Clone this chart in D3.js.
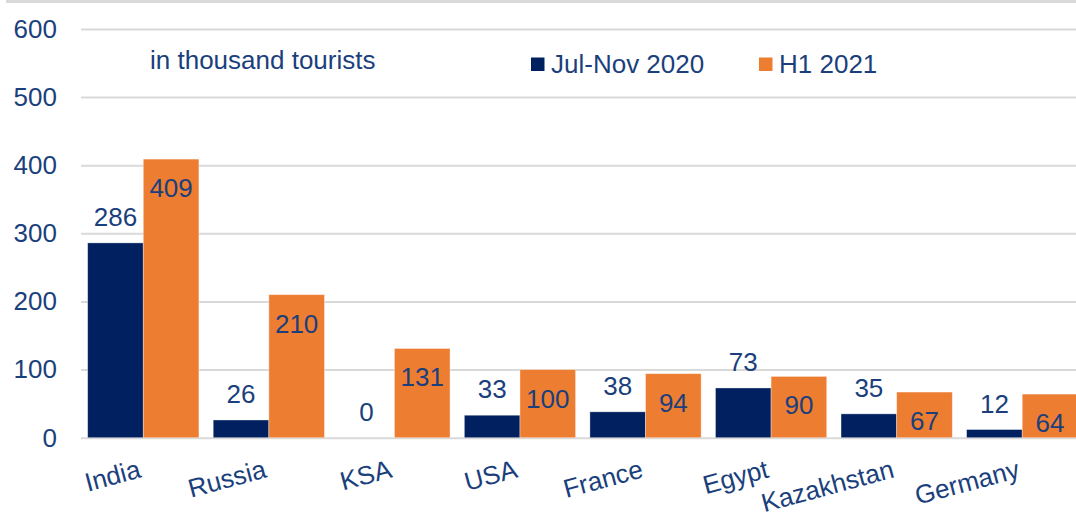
<!DOCTYPE html>
<html>
<head>
<meta charset="utf-8">
<script src="https://cdn.jsdelivr.net/npm/d3@7"></script>
<style>
  html, body { margin: 0; padding: 0; background: #ffffff; }
  svg { display: block; font-family: "Liberation Sans", Arial, sans-serif; }
</style>
</head>
<body>
<svg id="chart" width="1076" height="520"></svg>
<script>
// Tourist arrivals by source country, in thousands
const countries = ["India", "Russia", "KSA", "USA", "France", "Egypt", "Kazakhstan", "Germany"];
const julNov2020 = [286, 26, 0, 33, 38, 73, 35, 12];
const h1_2021 = [409, 210, 131, 100, 94, 90, 67, 64];
const seriesNames = ["Jul-Nov 2020", "H1 2021"];
const yTicks = [0, 100, 200, 300, 400, 500, 600];

const navy = "#002060";
const orange = "#ED7D31";
const textColor = "#1b3f7c";
const gridColor = "#d9d9d9";
const fontSize = 26;

const svg = d3.select("#chart");

// frame line along the top edge
svg.append("rect")
  .attr("x", 6).attr("y", 0)
  .attr("width", 1070).attr("height", 3)
  .attr("fill", gridColor);

const plotLeft = 80.5, plotRight = 1085;
const x = d3.scaleBand()
  .domain(countries)
  .range([plotLeft, plotRight])
  .paddingInner(0.114)
  .paddingOuter(0.057);

const xSeries = d3.scaleBand()
  .domain(seriesNames)
  .range([0, x.bandwidth()]);

const y = d3.scaleLinear().domain([0, 600]).range([437.7, 29]);

// gridlines + y tick labels via axis
const yAxis = d3.axisLeft(y)
  .tickValues(yTicks)
  .tickSize(-(1076 - 81))
  .tickPadding(24)
  .tickFormat(d3.format("d"));

const gy = svg.append("g")
  .attr("transform", "translate(81,0)")
  .call(yAxis);
gy.select(".domain").remove();
gy.selectAll(".tick line")
  .attr("stroke", gridColor)
  .attr("stroke-width", 2);
gy.selectAll(".tick text")
  .attr("fill", textColor)
  .attr("font-size", fontSize)
  .attr("font-family", "Liberation Sans, Arial, sans-serif");

// bars
const rows = countries.map((c, i) => ({ country: c, values: [julNov2020[i], h1_2021[i]] }));
const colors = [navy, orange];

const groups = svg.append("g").selectAll("g")
  .data(rows)
  .join("g")
  .attr("transform", d => `translate(${x(d.country)},0)`);

groups.selectAll("rect")
  .data(d => d.values.map((v, k) => ({ v, k })))
  .join("rect")
  .attr("x", d => xSeries(seriesNames[d.k]))
  .attr("y", d => y(d.v))
  .attr("width", xSeries.bandwidth())
  .attr("height", d => y(0) - y(d.v))
  .attr("fill", d => colors[d.k])
  .attr("stroke", "rgba(255,255,255,0.45)")
  .attr("stroke-width", 0.8);

// value labels: above navy bars, inside top of orange bars
groups.selectAll("text.val")
  .data(d => d.values.map((v, k) => ({ v, k })))
  .join("text")
  .attr("class", "val")
  .attr("x", d => xSeries(seriesNames[d.k]) + xSeries.bandwidth() / 2)
  .attr("y", d => d.k === 0 ? y(d.v) - 17 : y(d.v) + 38)
  .attr("text-anchor", "middle")
  .attr("fill", textColor)
  .attr("font-size", fontSize)
  .text(d => d.v);

// rotated category labels
svg.append("g").selectAll("text")
  .data(countries)
  .join("text")
  .attr("transform", d => `translate(${x(d) + x.bandwidth() / 2 - 6},459) rotate(-15)`)
  .attr("text-anchor", "end")
  .attr("dy", "0.72em")
  .attr("fill", textColor)
  .attr("font-size", fontSize)
  .text(d => d);

// unit note
svg.append("text")
  .attr("x", 150).attr("y", 69)
  .attr("fill", textColor)
  .attr("font-size", fontSize)
  .text("in thousand tourists");

// legend
const legendX = [531, 759];
const legend = svg.append("g").selectAll("g")
  .data(seriesNames)
  .join("g")
  .attr("transform", (d, i) => `translate(${legendX[i]},0)`);
legend.append("rect")
  .attr("x", 0).attr("y", 57.5)
  .attr("width", 13.5).attr("height", 13.5)
  .attr("fill", (d, i) => colors[i]);
legend.append("text")
  .attr("x", 20).attr("y", 72.5)
  .attr("fill", textColor)
  .attr("font-size", fontSize)
  .text(d => d);
</script>
</body>
</html>
